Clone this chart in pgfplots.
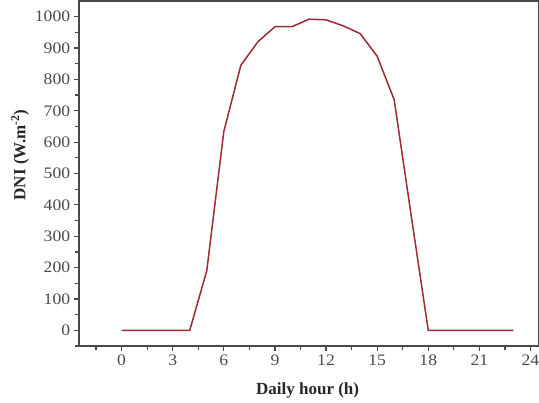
\documentclass[border=0pt]{standalone}
\usepackage{fontspec}
\setmainfont{Liberation Serif}
\usepackage{pgfplots}
\pgfplotsset{compat=1.18}
\definecolor{dnired}{HTML}{9E2A33}
\definecolor{axgray}{HTML}{4A4A4A}
\begin{document}
\begin{tikzpicture}
\begin{axis}[
  scale only axis,
  width=460pt, height=345pt,
  xmin=-2.5, xmax=24.5,
  ymin=-50, ymax=1050,
  xtick={0,3,...,24},
  minor xtick={-1.5,1.5,4.5,7.5,10.5,13.5,16.5,19.5,22.5},
  ytick={0,100,...,1000},
  minor ytick={-50,50,150,250,350,450,550,650,750,850,950},
  xtick pos=bottom, ytick pos=left,
  tick align=outside,
  major tick length=5pt, minor tick length=3.5pt,
  every tick/.style={axgray, line width=1.2pt},
  axis line style={axgray, line width=1.4pt},
  tick label style={font=\fontsize{16}{18}\selectfont, text=axgray, xscale=1.1},
  /pgf/number format/assume math mode=true,
  /pgf/number format/1000 sep={},
  xlabel={\textbf{Daily hour (h)}},
  ylabel={\textbf{DNI (W.m\textsuperscript{-2})}},
  label style={font=\fontsize{17}{19}\selectfont, text=black!85},
  xlabel style={at={(axis description cs:0.497,-0.128)}, anchor=center},
  ylabel style={at={(axis description cs:-0.128,0.554)}, anchor=center},
]
\addplot[dnired, line width=1.5pt, mark=none] coordinates {
  (0,0) (1,0) (2,0) (3,0) (4,0) (5,190) (6,634) (7,845) (8,920)
  (9,968) (10,968) (11,992) (12,990) (13,971) (14,946) (15,874)
  (16,735) (17,365) (18,0) (19,0) (20,0) (21,0) (22,0) (23,0)
};
\end{axis}
\pgfresetboundingbox
\path ([shift={(-79pt,-56pt)}]current axis.south west) rectangle ([shift={(0pt,1pt)}]current axis.north east);
\end{tikzpicture}
\end{document}
